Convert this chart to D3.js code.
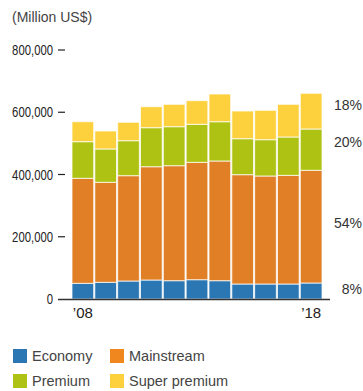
<!DOCTYPE html>
<html><head><meta charset="utf-8">
<script src="https://cdn.jsdelivr.net/npm/d3@7"></script>
<style>
body{margin:0;background:#fff;}
svg{display:block;}
</style></head>
<body><svg id="c" width="363" height="391"></svg>
<script>
const years = ["2008","2009","2010","2011","2012","2013","2014","2015","2016","2017","2018"];
const economy     = [50400, 53600, 57800, 61000, 58800, 62000, 58800, 48200, 48200, 48200, 51400];
const mainstream  = [337400,321400,338400,364000,369500,377100,384600,351200,347000,349100,362100];
const premium     = [117600,107000,112400,125400,125300,122100,126200,115600,116600,123200,132700];
const superPrem   = [64200, 57800, 59100, 67400, 71900, 76000, 89000, 89000, 94400, 105000,114700];
const seriesNames = ["Economy","Mainstream","Premium","Super premium"];
const seriesColors = ["#2a77b3","#e07f26","#aec213","#fdd13d"];
const legendColors = ["#2a77b3","#f0861e","#aec213","#fdd13d"];
const yTicks = [0,200000,400000,600000,800000];
const shareLabels = ["8%","54%","20%","18%"];
const xLabels = {"2008":"\u201908","2018":"\u201918"};

const svg = d3.select("#c");
const sans = "'Liberation Sans',Arial,sans-serif";

const x = d3.scaleBand().domain(years).range([72,322]).paddingInner(0.05).paddingOuter(0);
const y = d3.scaleLinear().domain([0,800000]).range([299,50]);

const rows = years.map((yr,i)=>({year:yr, Economy:economy[i], Mainstream:mainstream[i], Premium:premium[i], "Super premium":superPrem[i]}));
const stack = d3.stack().keys(seriesNames)(rows);

svg.append("g").selectAll("g").data(stack).join("g")
  .attr("fill",(d,i)=>seriesColors[i])
  .selectAll("rect").data(d=>d).join("rect")
  .attr("x",d=>x(d.data.year))
  .attr("width",x.bandwidth())
  .attr("y",d=>y(d[1]))
  .attr("height",d=>y(d[0])-y(d[1]))
  .attr("stroke","#fff").attr("stroke-opacity",0.75).attr("stroke-width",1);

// y axis ticks
const ya = svg.append("g");
yTicks.forEach(t=>{
  ya.append("text").attr("transform",`translate(53,${y(t)}) scale(0.78,1)`).attr("dy","0.35em")
    .attr("text-anchor","end").attr("font-family",sans).attr("font-size",14.5)
    .attr("fill","#222").text(d3.format(",")(t));
  if(t>0) ya.append("line").attr("x1",58).attr("x2",65).attr("y1",y(t)).attr("y2",y(t))
    .attr("stroke","#222").attr("stroke-width",1.2);
});
svg.append("line").attr("x1",58).attr("x2",330).attr("y1",y(0)+0.5).attr("y2",y(0)+0.5)
  .attr("stroke","#333").attr("stroke-width",1.5);

// x labels
Object.keys(xLabels).forEach(k=>{
  svg.append("text").attr("x",x(k)+x.bandwidth()/2).attr("y",313).attr("dy","0.35em")
    .attr("text-anchor","middle").attr("font-family",sans).attr("font-size",15)
    .attr("fill","#222").text(xLabels[k]);
});

// share labels at right
const labelY = [289, 223, 142, 105];
shareLabels.forEach((s,i)=>{
  svg.append("text").attr("x",362).attr("y",labelY[i]).attr("dy","0.35em")
    .attr("text-anchor","end").attr("font-family",sans).attr("font-size",14)
    .attr("fill","#333").text(s);
});

// title
svg.append("text").attr("x",12).attr("y",17).attr("dy","0.35em")
  .attr("font-family",sans).attr("font-size",14).attr("fill","#444").text("(Million US$)");

// legend
const lg = [{n:"Economy",x:13,y:349},{n:"Mainstream",x:110,y:349},{n:"Premium",x:13,y:374},{n:"Super premium",x:110,y:374}];
lg.forEach((l,i)=>{
  svg.append("rect").attr("x",l.x).attr("y",l.y).attr("width",14).attr("height",14).attr("fill",legendColors[i]);
  svg.append("text").attr("x",l.x+19).attr("y",l.y+7).attr("dy","0.35em")
    .attr("font-family",sans).attr("font-size",14.5).attr("fill","#444").text(l.n);
});
</script></body></html>
